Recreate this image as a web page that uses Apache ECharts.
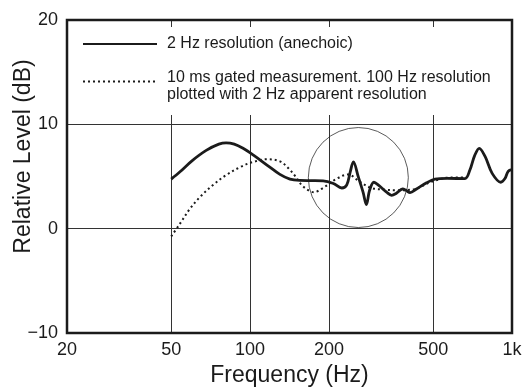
<!DOCTYPE html>
<html>
<head>
<meta charset="utf-8">
<script src="https://cdn.jsdelivr.net/npm/echarts@6/dist/echarts.min.js"></script>
<style>
html,body{margin:0;padding:0;background:#fff;}
#chart{width:524px;height:388px;}
</style>
</head>
<body>
<div id="chart"></div>
<script>
// ---- data ----
const solidName = '2 Hz resolution (anechoic)';
const dottedLines = ['10 ms gated measurement. 100 Hz resolution', 'plotted with 2 Hz apparent resolution'];
const dottedName = dottedLines.join('\n');

const solidFreq = [50, 54, 60, 68, 76, 81, 87, 94, 103, 116, 130, 142, 155, 170, 190, 208, 224, 234, 241, 248, 259, 270, 278, 286, 297, 310, 332, 347, 362, 382, 395, 408, 432, 472, 508, 565, 661, 690, 720, 750, 790, 840, 906, 940, 967, 1000];
const solidDb   = [4.75, 5.45, 6.5, 7.5, 8.1, 8.23, 8.1, 7.7, 7.05, 6.1, 5.2, 4.75, 4.62, 4.6, 4.58, 4.33, 3.9, 4.2, 5.4, 6.4, 4.96, 3.5, 2.3, 3.68, 4.45, 4.15, 3.5, 3.2, 3.4, 3.8, 3.65, 3.45, 3.8, 4.4, 4.74, 4.82, 4.8, 5.6, 7.0, 7.7, 6.9, 5.3, 4.45, 4.8, 5.5, 5.65];

const dottedFreq = [50, 54, 59, 64.4, 72, 81, 92, 103, 116, 130, 140, 148, 156, 165, 175, 190, 213, 237, 262, 290, 322, 362, 418, 491, 580, 670];
const dottedDb   = [-0.74, 0.48, 1.92, 3.04, 4.16, 5.13, 5.92, 6.4, 6.66, 6.45, 5.8, 5.1, 4.3, 3.75, 3.5, 3.9, 4.75, 5.2, 4.5, 3.9, 3.75, 3.68, 3.75, 4.48, 4.9, 4.9];

// annotation circle (centre frequency, centre level)
const circleFreq = [259];
const circleDb = [4.9];

const xTicks = [20, 50, 100, 200, 500, 1000];
const xTickLabels = ['20', '50', '100', '200', '500', '1k'];
const yMin = -10, yMax = 20, yStep = 10;

// ---- build ----
const zip = (a, b) => a.map((v, i) => [v, b[i]]);
const FONT = '"Liberation Sans", Arial, Helvetica, sans-serif';
const INK = '#1b1b1b';

const chart = echarts.init(document.getElementById('chart'), null, {renderer: 'canvas'});
chart.setOption({
  animation: false,
  backgroundColor: '#fff',
  textStyle: {fontFamily: FONT, color: INK},
  grid: {left: 67, right: 12, top: 20, bottom: 55, outerBoundsMode: 'none', containLabel: false,
         show: true, borderColor: INK, borderWidth: 2.5, backgroundColor: 'transparent', z: 3},
  legend: {
    orient: 'vertical',
    left: 69, top: 27,
    padding: [8.5, 19, 11.5, 13],
    backgroundColor: '#fff',
    itemWidth: 74, itemHeight: 14, itemGap: 7,
    selectedMode: false,
    itemStyle: {color: 'rgba(0,0,0,0)', borderColor: 'rgba(0,0,0,0)', borderWidth: 0},
    formatter: name => name === dottedName
      ? '{s|}\n{t|' + dottedLines[0] + '}\n{t|' + dottedLines[1] + '}'
      : '{t|' + name + '}',
    textStyle: {fontFamily: FONT, fontSize: 16, color: INK, lineHeight: 17, padding: [0, 0, 0, 5],
      rich: {
        t: {fontFamily: FONT, fontSize: 16, color: INK, lineHeight: 17},
        s: {fontSize: 4, lineHeight: 10}
      }
    },
    data: [solidName, dottedName]
  },
  xAxis: {
    type: 'log', logBase: 10, min: 20, max: 1000,
    name: 'Frequency (Hz)', nameLocation: 'middle', nameGap: 31, nameMoveOverlap: false,
    nameTextStyle: {fontFamily: FONT, fontSize: 23, color: INK},
    axisLine: {show: false},
    axisTick: {show: false, customValues: xTicks},
    axisLabel: {customValues: xTicks, margin: 8, fontFamily: FONT, fontSize: 18, color: INK,
      formatter: v => xTickLabels[xTicks.indexOf(Math.round(v))] ?? String(v)},
    splitLine: {show: true, lineStyle: {color: '#333', width: 1}},
    minorTick: {show: false}, minorSplitLine: {show: false}
  },
  yAxis: {
    type: 'value', min: yMin, max: yMax, interval: yStep,
    name: 'Relative Level (dB)', nameLocation: 'middle', nameGap: 32, nameMoveOverlap: false,
    nameTextStyle: {fontFamily: FONT, fontSize: 23, color: INK, padding: [0, 0, 0, 40]},
    axisLine: {show: false}, axisTick: {show: false},
    axisLabel: {margin: 9, fontFamily: FONT, fontSize: 18, color: INK,
      formatter: v => v < 0 ? '\u2212' + Math.abs(v) : String(v)},
    splitLine: {show: true, lineStyle: {color: '#333', width: 1}}
  },
  series: [
    {
      name: solidName, type: 'line', data: zip(solidFreq, solidDb),
      smooth: 0.35, symbol: 'none', z: 5,
      itemStyle: {color: INK},
      lineStyle: {color: INK, width: 2.8}
    },
    {
      name: dottedName, type: 'line', data: zip(dottedFreq, dottedDb),
      smooth: 0.35, symbol: 'none', z: 4,
      itemStyle: {color: INK},
      lineStyle: {color: INK, width: 2, type: [2, 3]}
    },
    {
      name: 'circle', type: 'scatter', data: zip(circleFreq, circleDb),
      symbol: 'circle', symbolSize: 100, silent: true, z: 2,
      itemStyle: {color: 'rgba(0,0,0,0)', borderColor: INK, borderWidth: 0.9}
    }
  ]
});
</script>
</body>
</html>
